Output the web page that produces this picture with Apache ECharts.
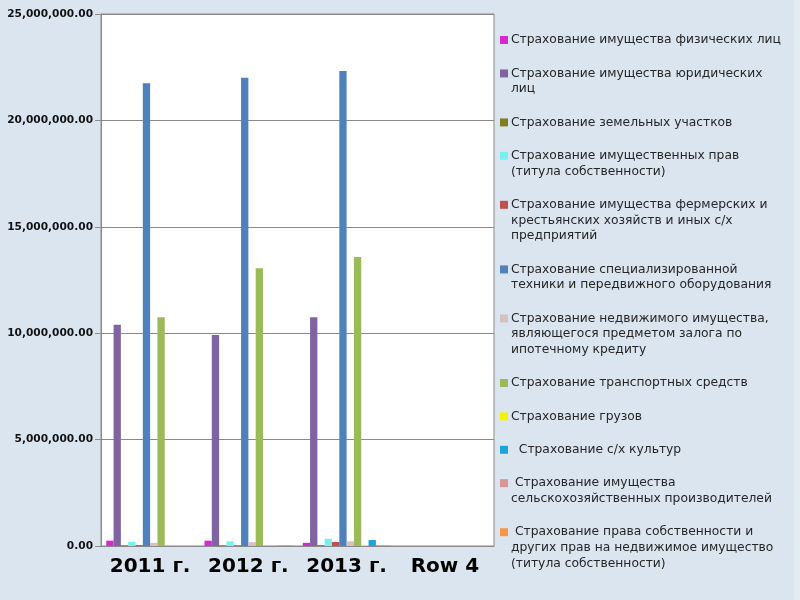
<!DOCTYPE html>
<html>
<head>
<meta charset="utf-8">
<script src="https://cdn.jsdelivr.net/npm/echarts@6/dist/echarts.min.js"></script>
<style>
  html, body { margin: 0; padding: 0; background: #dbe5ef; }
  #chart { width: 800px; height: 600px; }
</style>
</head>
<body>
<div id="chart"></div>
<script>
// categories on the x axis
var years = ['2011 г.', '2012 г.', '2013 г.', 'Row 4'];

// legend labels, line breaks as in the source
var labels = [
  'Страхование имущества физических лиц',
  'Страхование имущества юридических\nлиц',
  'Страхование земельных участков',
  'Страхование имущественных прав\n(титула собственности)',
  'Страхование имущества фермерских и\nкрестьянских хозяйств и иных с/х\nпредприятий',
  'Страхование специализированной\nтехники и передвижного оборудования',
  'Страхование недвижимого имущества,\nявляющегося предметом залога по\nипотечному кредиту',
  'Страхование транспортных средств',
  'Страхование грузов',
  '  Страхование с/х культур',
  ' Страхование имущества\nсельскохозяйственных производителей',
  ' Страхование права собственности и\nдругих прав на недвижимое имущество\n(титула собственности)'
];

var colors = ['#d62ad0', '#8064a2', '#7f7f1f', '#79f0f0', '#c0504d', '#4f81bd',
  '#d8c0c0', '#9bbb59', '#f4f400', '#1ea3d8', '#d99694', '#f79646'];

// values per series (2011, 2012, 2013, Row 4)
var physProperty   = [250000, 250000, 150000, null];
var legalProperty  = [10400000, 9920000, 10750000, null];
var landPlots      = [30000, 30000, 40000, null];
var propertyRights = [200000, 220000, 340000, null];
var farmProperty   = [40000, 30000, 190000, null];
var specMachinery  = [21750000, 22000000, 22320000, null];
var mortgageProp   = [150000, 180000, 220000, null];
var vehicles       = [10750000, 13050000, 13580000, null];
var cargo          = [0, 0, 50000, null];
var crops          = [0, 0, 280000, null];
var agroProducers  = [0, 30000, 40000, null];
var ownershipTitle = [0, 40000, 30000, null];

var seriesData = [physProperty, legalProperty, landPlots, propertyRights, farmProperty,
  specMachinery, mortgageProp, vehicles, cargo, crops, agroProducers, ownershipTitle];

var names = labels.map(function (l) { return l.replace(/\n/g, ' ').trim(); });

var rich = {
  t: { fontFamily: 'DejaVu Sans', fontSize: 12.3, lineHeight: 15.6, color: '#262626' },
  g: { width: 3, height: 15.6 },
  p: { width: 11, height: 15.6 }
};
colors.forEach(function (c, i) {
  rich['i' + i] = { width: 8, height: 8, backgroundColor: c, verticalAlign: 'middle' };
});

var myChart = echarts.init(document.getElementById('chart'));

var option = {
  backgroundColor: '#dbe5ef',
  animation: false,
  color: colors,
  graphic: [{
    type: 'rect', right: 0, top: 0, z: -10,
    shape: { width: 6, height: 600 },
    style: { fill: '#e4ebf3' }
  }],
  grid: {
    left: 101, right: 306, top: 14, bottom: 54,
    show: true, backgroundColor: '#ffffff', borderColor: '#8a8a8a', borderWidth: 1
  },
  legend: {
    orient: 'vertical',
    left: 495,
    top: 34,
    padding: 0,
    itemGap: 21.4,
    itemWidth: 0,
    itemHeight: 0,
    selectedMode: false,
    data: names,
    formatter: function (name) {
      var i = names.indexOf(name);
      var lines = labels[i].split('\n');
      return lines.map(function (l, k) {
        return (k === 0 ? '{i' + i + '|}{g|}' : '{p|}') + '{t|' + l + '}';
      }).join('\n');
    },
    textStyle: { rich: rich }
  },
  xAxis: {
    type: 'category',
    data: years,
    axisLine: { lineStyle: { color: '#8a8a8a' } },
    axisTick: { length: 5, lineStyle: { color: '#8a8a8a' } },
    axisLabel: {
      interval: 0,
      margin: 11, color: '#000', fontFamily: 'DejaVu Sans',
      fontWeight: 'bold', fontSize: 20
    }
  },
  yAxis: {
    type: 'value',
    min: 0, max: 25000000, interval: 5000000,
    axisLine: { show: true, lineStyle: { color: '#8a8a8a' } },
    axisTick: { show: true, length: 6, lineStyle: { color: '#8a8a8a' } },
    splitLine: { lineStyle: { color: '#8a8a8a' } },
    axisLabel: {
      margin: 8, color: '#111', fontFamily: 'DejaVu Sans',
      fontWeight: 'bold', fontSize: 10.6,
      formatter: function (v) {
        return v.toLocaleString('en-US', { minimumFractionDigits: 2, maximumFractionDigits: 2 });
      }
    }
  },
  series: seriesData.map(function (d, i) {
    return {
      name: names[i],
      type: 'bar',
      data: d,
      barGap: '0%',
      barCategoryGap: '10.7%'
    };
  })
};

myChart.setOption(option);
</script>
</body>
</html>
